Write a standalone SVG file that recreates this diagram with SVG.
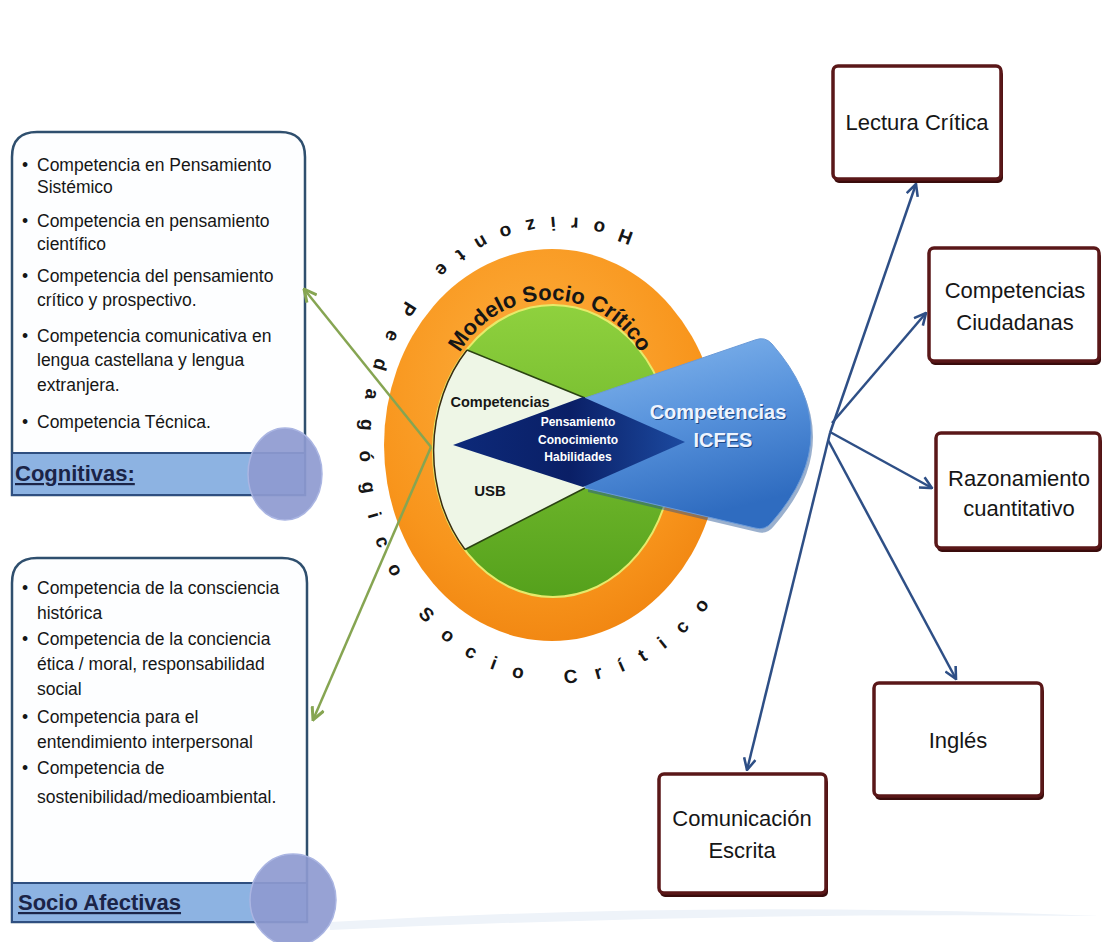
<svg xmlns="http://www.w3.org/2000/svg" width="1105" height="942" viewBox="0 0 1105 942">
<style>
.t{font-family:"Liberation Sans",Arial,sans-serif;fill:#161616}
.w{font-family:"Liberation Sans",Arial,sans-serif;font-weight:bold;text-anchor:middle}
.li{font-size:17.5px}
.hd{font-size:22px;font-weight:bold;fill:#1b2447;text-decoration:underline}
.bx{fill:#ffffff;stroke:#5a1718;stroke-width:3.5}
.bxs{fill:#3a0c0c}
.rt{font-size:22px;text-anchor:middle}
.lb{fill:#fdfeff;stroke:#2f4f6e;stroke-width:2.5}
.hbar{fill:#8db3e2;stroke:#2f4f80;stroke-width:2}
.dot{fill:#8e9ad0;fill-opacity:0.92;stroke:#aab5e2;stroke-width:1.5}
.bl{stroke:#2e4f86;stroke-width:2.5;fill:none}
.gl{stroke:#86a552;stroke-width:2.5;fill:none}
</style>
<defs>
<marker id="ab" viewBox="0 0 12 12" refX="11" refY="6" markerWidth="14" markerHeight="14" markerUnits="userSpaceOnUse" orient="auto">
<path d="M1,1 L11,6 L1,11" fill="none" stroke="#2e4f86" stroke-width="2.2"/>
</marker>
<marker id="ag" viewBox="0 0 12 12" refX="11" refY="6" markerWidth="15" markerHeight="15" markerUnits="userSpaceOnUse" orient="auto">
<path d="M1,1 L11,6 L1,11" fill="none" stroke="#86a552" stroke-width="2.4"/>
</marker>
<radialGradient id="gor" cx="0.45" cy="0.35" r="0.7">
<stop offset="0" stop-color="#fdb040"/>
<stop offset="0.7" stop-color="#f8951c"/>
<stop offset="1" stop-color="#f08410"/>
</radialGradient>
<linearGradient id="ggr" x1="0" y1="0" x2="0" y2="1">
<stop offset="0" stop-color="#8fd13e"/>
<stop offset="1" stop-color="#55a11c"/>
</linearGradient>
<linearGradient id="gfan" x1="0" y1="0" x2="0.3" y2="1">
<stop offset="0" stop-color="#86b8ee"/>
<stop offset="0.5" stop-color="#5893dc"/>
<stop offset="1" stop-color="#2f6cc0"/>
</linearGradient>
<linearGradient id="gdia" x1="0" y1="0" x2="1" y2="0">
<stop offset="0" stop-color="#0d2a7a"/>
<stop offset="0.5" stop-color="#0a1f66"/>
<stop offset="1" stop-color="#1c4aa0"/>
</linearGradient>
<clipPath id="cg"><ellipse cx="553" cy="451" rx="120" ry="146"/></clipPath>
<path id="arcM" d="M 447,403 A 103,103 0 0 1 653,403"/>
<path id="arcH" d="M 633.7,233.5 A 200,233 0 0 0 360,450 A 200,233 0 0 0 733.2,566.5"/>
</defs>
<rect width="1105" height="942" fill="#ffffff"/>
<path d="M330,922 Q720,900 1100,916 Q720,912 330,930 Z" fill="#eef3f9"/>

<g id="cognitivas">
<path class="lb" d="M12,495 L12,157 Q12,132 37,132 L280,132 Q305,132 305,157 L305,495 Z"/>
<rect class="hbar" x="12" y="453" width="293" height="42"/>
<g class="t li">
<text x="22" y="171">•</text><text x="37" y="171">Competencia en Pensamiento</text>
<text x="37" y="193">Sistémico</text>
<text x="22" y="227">•</text><text x="37" y="227">Competencia en pensamiento</text>
<text x="37" y="250">científico</text>
<text x="22" y="282">•</text><text x="37" y="282">Competencia del pensamiento</text>
<text x="37" y="306">crítico y prospectivo.</text>
<text x="22" y="342">•</text><text x="37" y="342">Competencia comunicativa  en</text>
<text x="37" y="366">lengua castellana y lengua</text>
<text x="37" y="391">extranjera.</text>
<text x="22" y="428">•</text><text x="37" y="428">Competencia Técnica.</text>
</g>
<text class="t hd" x="15" y="481">Cognitivas:</text>
<ellipse class="dot" cx="285" cy="474" rx="37" ry="46"/>
</g>

<g id="socioafectivas">
<path class="lb" d="M12,922 L12,583 Q12,558 37,558 L282,558 Q307,558 307,583 L307,922 Z"/>
<rect class="hbar" x="12" y="883" width="295" height="39"/>
<g class="t li">
<text x="22" y="594">•</text><text x="37" y="594">Competencia de la consciencia</text>
<text x="37" y="619">histórica</text>
<text x="22" y="645">•</text><text x="37" y="645">Competencia de la conciencia</text>
<text x="37" y="670">ética / moral, responsabilidad</text>
<text x="37" y="695">social</text>
<text x="22" y="723">•</text><text x="37" y="723">Competencia para el</text>
<text x="37" y="748">entendimiento interpersonal</text>
<text x="22" y="774">•</text><text x="37" y="774">Competencia de</text>
<text x="37" y="803">sostenibilidad/medioambiental.</text>
</g>
<text class="t hd" x="18" y="910">Socio Afectivas</text>
<ellipse class="dot" cx="293" cy="900" rx="43" ry="46"/>
</g>

<g id="modelo">
<text class="t" font-size="19" font-weight="bold"><textPath href="#arcH"><tspan letter-spacing="16">Horizonte</tspan><tspan letter-spacing="20.5"> Pedagógico</tspan><tspan letter-spacing="18.4"> Socio Crítico</tspan></textPath></text>
<ellipse cx="552" cy="445" rx="168" ry="196" fill="url(#gor)"/>
<ellipse cx="553" cy="451" rx="120" ry="146" fill="url(#ggr)" stroke="#e6ea6a" stroke-width="2"/>
<path d="M467,350 L585,398 L585,488 L465,549.5 A120,146 0 0 1 467,350 Z" fill="#eef6e6" clip-path="url(#cg)"/>
<path d="M467,350 A120,146 0 0 0 465,549.5" fill="none" stroke="#3a2c12" stroke-width="1.5"/>
<path d="M467,350 L585,398 M465,549.5 L585,488" stroke="#2a4212" stroke-width="1.6"/>
<text class="t" font-size="22" font-weight="bold" text-anchor="middle"><textPath href="#arcM" startOffset="50%">Modelo Socio Crítico</textPath></text>
<text class="t" x="500" y="407" font-size="14.5" font-weight="bold" text-anchor="middle">Competencias</text>
<text class="t" x="490" y="496" font-size="15" font-weight="bold" text-anchor="middle">USB</text>
</g>

<g id="icfes">
<path d="M588,402 L757,344 Q767,340 774,348 Q852,437 774,526 Q767,535 757,532 L588,492 Z" fill="#1f4f92" opacity="0.45"/>
<path d="M585,398 L755,340 Q765,336 772,344 Q850,433 772,522 Q765,531 755,528 L585,488 Z" fill="url(#gfan)" stroke="#6a9ad8" stroke-width="1"/>
<text class="w" x="719" y="420" font-size="20" fill="#1f4a86">Competencias</text>
<text class="w" x="724" y="448" font-size="20" fill="#1f4a86">ICFES</text>
<text class="w" x="718" y="419" font-size="20" fill="#eef4ff">Competencias</text>
<text class="w" x="723" y="447" font-size="20" fill="#eef4ff">ICFES</text>
</g>

<g id="diamante">
<path d="M453,445 L583,397 L685,442 L583,487 Z" fill="url(#gdia)"/>
<text class="w" x="578" y="426" font-size="12" fill="#ffffff">Pensamiento</text>
<text class="w" x="578" y="444" font-size="12" fill="#ffffff">Conocimiento</text>
<text class="w" x="578" y="461" font-size="12" fill="#ffffff">Habilidades</text>
</g>

<g id="lectura">
<rect class="bxs" x="834" y="70" width="169" height="113" rx="5"/>
<rect class="bx" x="833" y="66" width="168" height="113" rx="5"/>
<text class="t rt" x="917" y="130">Lectura Crítica</text>
</g>
<g id="ciudadanas">
<rect class="bxs" x="930" y="252" width="171" height="113" rx="5"/>
<rect class="bx" x="929" y="248" width="170" height="113" rx="5"/>
<text class="t rt" x="1015" y="298">Competencias</text>
<text class="t rt" x="1015" y="330">Ciudadanas</text>
</g>
<g id="razonamiento">
<rect class="bxs" x="937" y="437" width="165" height="115" rx="5"/>
<rect class="bx" x="936" y="433" width="164" height="115" rx="5"/>
<text class="t rt" x="1019" y="486">Razonamiento</text>
<text class="t rt" x="1019" y="516">cuantitativo</text>
</g>
<g id="ingles">
<rect class="bxs" x="875" y="687" width="169" height="113" rx="5"/>
<rect class="bx" x="874" y="683" width="168" height="113" rx="5"/>
<text class="t rt" x="958" y="748">Inglés</text>
</g>
<g id="comunicacion">
<rect class="bxs" x="660" y="778" width="168" height="119" rx="5"/>
<rect class="bx" x="659" y="774" width="167" height="119" rx="5"/>
<text class="t rt" x="742" y="826">Comunicación</text>
<text class="t rt" x="742" y="858">Escrita</text>
</g>

<g id="connectors">
<line class="bl" x1="830" y1="433" x2="916" y2="184" marker-end="url(#ab)"/>
<line class="bl" x1="832" y1="423" x2="926" y2="313" marker-end="url(#ab)"/>
<line class="bl" x1="830" y1="432" x2="932" y2="488" marker-end="url(#ab)"/>
<line class="bl" x1="828" y1="440" x2="956" y2="679" marker-end="url(#ab)"/>
<line class="bl" x1="830" y1="433" x2="747" y2="770" marker-end="url(#ab)"/>
<line class="gl" x1="431" y1="447" x2="304" y2="289" marker-end="url(#ag)"/>
<line class="gl" x1="431" y1="447" x2="313" y2="720" marker-end="url(#ag)"/>
</g>
</svg>
